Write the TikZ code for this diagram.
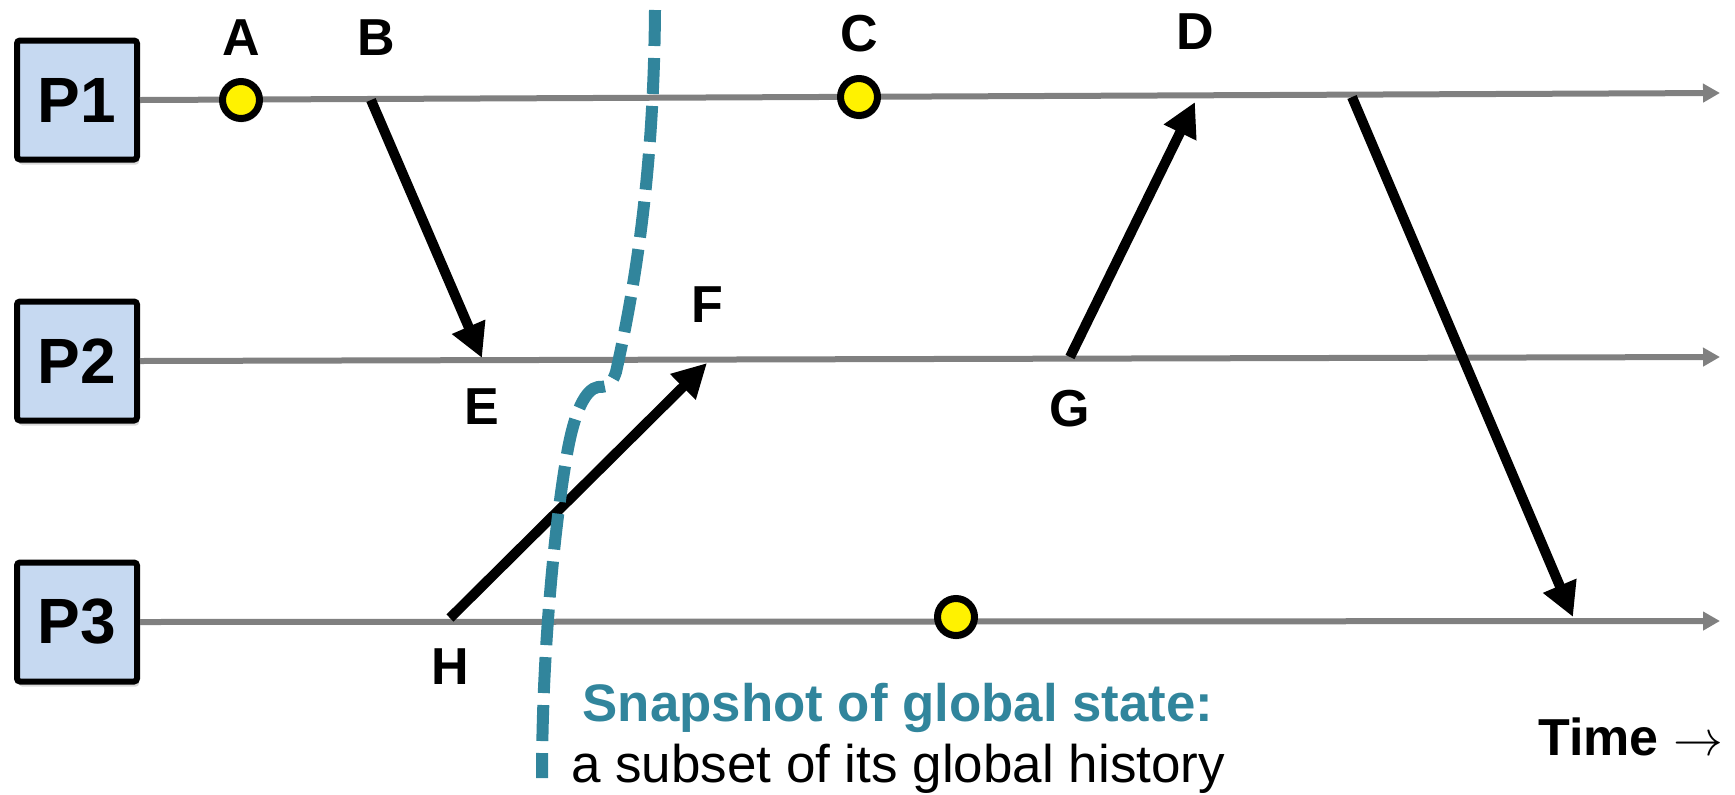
\documentclass[tikz,border=0pt]{standalone}
\usepackage{fontspec}
\setmainfont{Liberation Sans}
\usepackage{tikz}
\usetikzlibrary{positioning}
\usetikzlibrary{arrows.meta}
\usetikzlibrary{shadows}
\definecolor{snapteal}{HTML}{31859C}
\definecolor{procblue}{HTML}{C6D9F1}
\definecolor{timegray}{HTML}{808080}

\begin{document}
\begin{tikzpicture}[
x=0.5pt, y=-0.5pt,
proc/.style={rectangle, draw=black, fill=procblue, line width=3pt, rounded corners=1.5pt,
  minimum width=60pt, minimum height=59.5pt, inner sep=0,
  font=\fontsize{32}{36}\selectfont\bfseries,
  drop shadow={shadow xshift=1pt, shadow yshift=-2.5pt, opacity=0.3}},
dot/.style={circle, draw=black, fill=yellow, line width=3.5pt, minimum size=18.5pt, inner sep=0,
  drop shadow={shadow xshift=0.5pt, shadow yshift=-2pt, opacity=0.3}},
lbl/.style={inner sep=0, font=\fontsize{26}{30}\selectfont\bfseries},
snaptext/.style={inner sep=0, text=snapteal, font=\fontsize{26.4}{30}\selectfont\bfseries},
histtext/.style={inner sep=0, font=\fontsize{26.5}{30}\selectfont},
timeline/.style={draw=timegray, line width=3pt, -{Triangle[length=8.5pt, width=9pt]}},
msg/.style={draw=black, line width=5pt, -{Triangle[length=17pt, width=17pt]}},
cut/.style={draw=snapteal, line width=6pt, dash pattern=on 18pt off 6pt}
]
\useasboundingbox (0,0) rectangle (1735,794);

% processes and their time lines
\node[proc] (p1) at (77,100) {P1};
\node[proc, below=68pt of p1] (p2) {P2};
\node[proc, below=68pt of p2] (p3) {P3};
\coordinate (t1) at (1720,93);
\coordinate (t2) at (1720,357);
\coordinate (t3) at (1720,621);
\draw[timeline] (p1.east) -- (t1);
\draw[timeline] (p2.east) -- (t2);
\draw[timeline] (p3.east) -- (t3);

% events
\coordinate (a) at (241,100);
\coordinate (b) at (371,100);
\coordinate (c) at (859,97);
\coordinate (d) at (1195,102);
\coordinate (e) at (482,358);
\coordinate (f) at (707,363);
\coordinate (g) at (1070,357);
\coordinate (h) at (450,618);
\coordinate (s) at (1352,97);
\coordinate (r) at (1573,617);
\coordinate (k) at (956,617);
\node[lbl, above=22pt of a] (la) {A};
\node[lbl, above=22pt of b, xshift=2.5pt] (lb) {B};
\node[lbl, above=22.5pt of c] (lc) {C};
\node[lbl, above=26pt of d] (ld) {D};
\node[lbl, below=15pt of e] (le) {E};
\node[lbl, above=20pt of f] (lf) {F};
\node[lbl, below=16.5pt of g] (lg) {G};
\node[lbl, below=15pt of h] (lh) {H};

% messages
\draw[msg] (b) -- (e);
\draw[msg] (h) -- (f);
\draw[msg] (g) -- (d);
\draw[msg] (s) -- (r);

\node[dot] (da) at (a) {};
\node[dot] (dc) at (c) {};
\node[dot] (dk) at (k) {};

% the cut
\draw[cut] (655,10) .. controls (654,150) and (640,265) .. (616,372)
  .. controls (610,390) and (604,386) .. (598,387)
  .. controls (586,389) and (574,410) .. (566,460)
  .. controls (555,525) and (542,650) .. (542,778);

\node[snaptext, anchor=base] (snap) at (898,721) {Snapshot of global state:};
\node[histtext, anchor=base] (hist) at (898,782) {a subset of its global history};
\node[lbl, anchor=base west] (time) at (1538,755) {Time~$\rightarrow$};
\end{tikzpicture}
\end{document}
